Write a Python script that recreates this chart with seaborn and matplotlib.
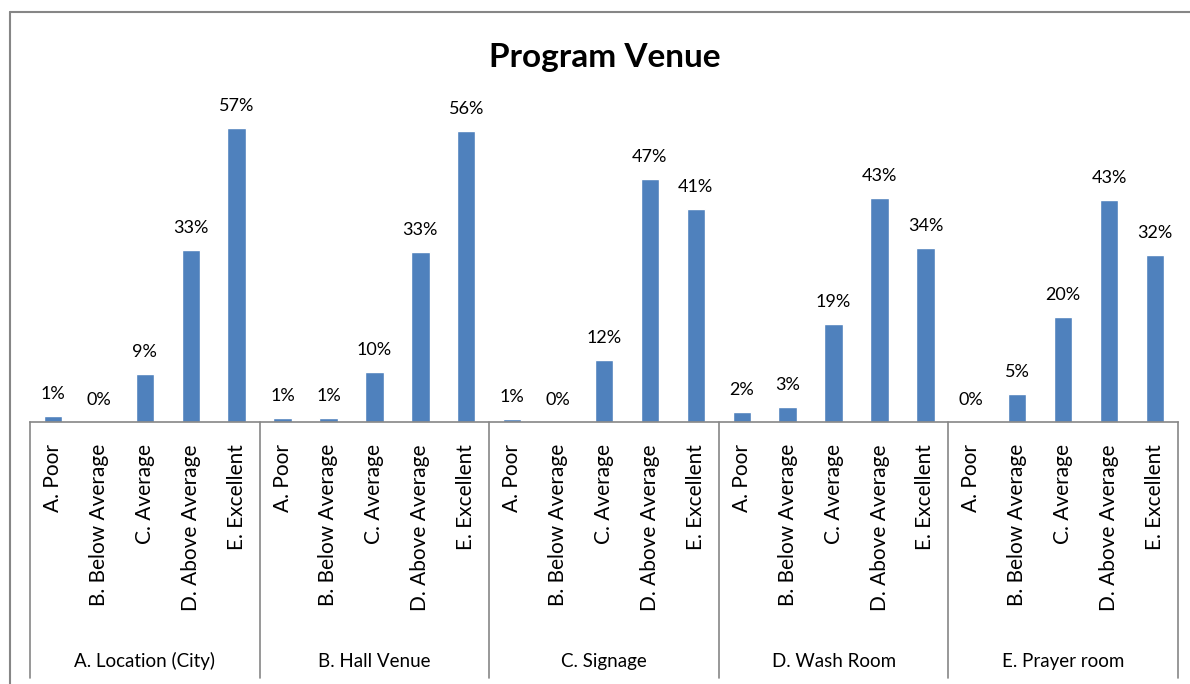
import pandas as pd
import matplotlib.pyplot as plt
import matplotlib.transforms as mtransforms
from matplotlib.lines import Line2D
import seaborn as sns

# aspects and rating scale
groups = ["A. Location (City)", "B. Hall Venue", "C. Signage", "D. Wash Room", "E. Prayer room"]
ratings = ["A. Poor", "B. Below Average", "C. Average", "D. Above Average", "E. Excellent"]

# percentage of responses per rating
location = [1.2, 0.0, 9.3, 33.3, 57.0]
hall_venue = [0.7, 0.7, 9.7, 33.0, 56.4]
signage = [0.6, 0.0, 12.0, 47.0, 41.3]
wash_room = [2.0, 2.9, 19.0, 43.4, 33.7]
prayer_room = [0.0, 5.4, 20.4, 43.0, 32.4]

series = [location, hall_venue, signage, wash_room, prayer_room]
rows = []
for g, vals in zip(groups, series):
    for r, v in zip(ratings, vals):
        rows.append({"slot": g + "|" + r, "group": g, "rating": r, "pct": v})
df = pd.DataFrame(rows)
slots = list(df["slot"])

sns.set_style("white")
plt.rcParams["font.family"] = ["Lato", "DejaVu Sans"]
plt.rcParams["text.color"] = "black"
plt.rcParams["xtick.color"] = "black"

W, H = 1190, 684
fig = plt.figure(figsize=(W / 100, H / 100), dpi=100)
ax = fig.add_axes([30 / W, (H - 422) / H, (1178 - 30) / W, 309.6 / H])

sns.barplot(data=df, x="slot", y="pct", order=slots, color="#4F81BD",
            saturation=1, width=0.4, ax=ax, errorbar=None)

ax.set_xlim(-0.5, len(slots) - 0.5)
ax.set_ylim(0, 60)
ax.set_xlabel("")
ax.set_ylabel("")
ax.set_yticks([])
ax.set_xticks(range(len(slots)))
ax.set_xticklabels(list(df["rating"]), rotation=90, va="top", ha="center", fontsize=15)
ax.tick_params(axis="x", length=0, pad=16, labelcolor="black")
for s in ["left", "right", "top"]:
    ax.spines[s].set_visible(False)
ax.spines["bottom"].set_color("#868686")
ax.spines["bottom"].set_linewidth(1.2)

# value labels
for i, v in enumerate(df["pct"]):
    ax.annotate("{:.0f}%".format(v), xy=(i, v), xytext=(0, 22), textcoords="offset pixels",
                ha="center", va="center", fontsize=13, annotation_clip=False)

# group separators and group labels
trans = mtransforms.blended_transform_factory(ax.transData, ax.transAxes)
n = len(ratings)
for k in range(len(groups) + 1):
    x = k * n - 0.5
    ax.plot([x, x], [0, -0.827], transform=trans, color="#868686", lw=1.2, clip_on=False)
for k, g in enumerate(groups):
    ax.text(k * n + (n - 1) / 2, -0.772, g, transform=trans, ha="center", va="center",
            fontsize=13.5)

fig.text(605 / W, 1 - 58 / H, "Program Venue", ha="center", va="center",
         fontsize=24, fontweight="bold")

# chart frame (cut off at right and bottom)
fig.add_artist(Line2D([10 / W, 10 / W], [0, 1 - 12 / H], color="#868686", lw=1.5))
fig.add_artist(Line2D([10 / W, 1], [1 - 12 / H, 1 - 12 / H], color="#868686", lw=1.5))

fig.savefig("out.png", dpi=100)
